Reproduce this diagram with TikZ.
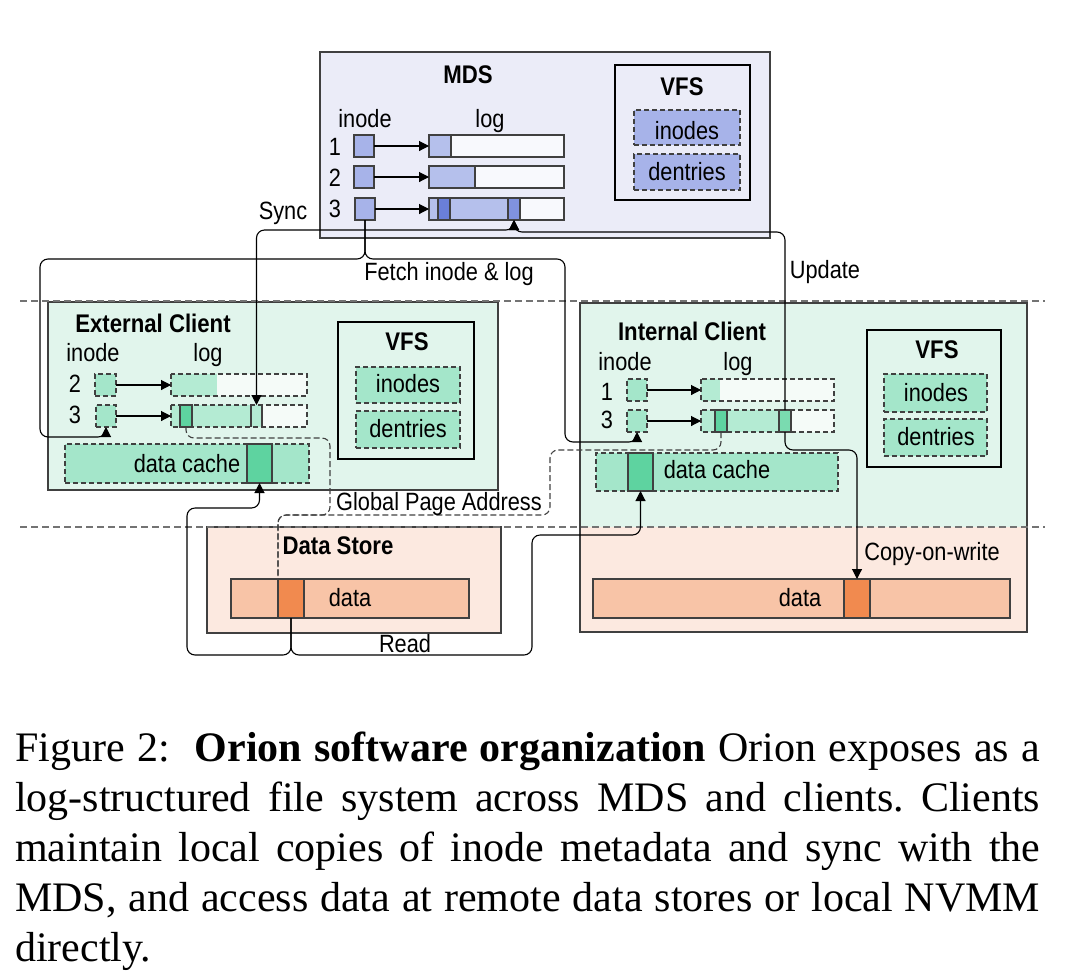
\documentclass[tikz,border=0pt]{standalone}
\usepackage{fontspec}
\setmainfont{Liberation Serif}
\newfontfamily\dfont[FakeStretch=0.87]{Liberation Sans}
\usetikzlibrary{arrows.meta,calc}
\definecolor{mdsbg}{HTML}{EBECF8}
\definecolor{blueA}{HTML}{A7B3E9}
\definecolor{blueL}{HTML}{B5C0EC}
\definecolor{blueD}{HTML}{6A7FD9}
\definecolor{blueE}{HTML}{F8F9FD}
\definecolor{mintbg}{HTML}{E1F5EC}
\definecolor{mintA}{HTML}{A4E6CA}
\definecolor{mintL}{HTML}{B4EBD3}
\definecolor{mintD}{HTML}{5ED3A0}
\definecolor{mintM}{HTML}{7ADBB0}
\definecolor{mintE}{HTML}{F5FBF8}
\definecolor{peachbg}{HTML}{FCE9E0}
\definecolor{peachbar}{HTML}{F8C4A7}
\definecolor{orng}{HTML}{F18A4F}
\definecolor{edge}{HTML}{404040}
\newcommand\rb[6]{\node[#2, anchor=north west, minimum width={(#5-#3)*1pt}, minimum height={(#6-#4)*1pt}, inner sep=0pt, outer sep=0pt] (#1) at (#3,#4) {};}
\tikzset{
  lbl/.style={font=\dfont\fontsize{25}{30}\selectfont, inner sep=0pt, anchor=base},
  ttl/.style={font=\dfont\bfseries\fontsize{25.5}{30}\selectfont, inner sep=0pt, anchor=base},
  solidbox/.style={draw=edge, line width=1.1pt},
  dbox/.style={draw=edge, dash pattern=on 5pt off 3pt, line width=1.1pt},
  conn/.style={draw=black, line width=1.1pt, rounded corners=8pt},
  dconn/.style={draw=edge, line width=1.1pt, rounded corners=8pt, dash pattern=on 6pt off 3pt},
  tip/.style={-{Triangle[length=10pt,width=10pt]}},
  tips/.style={{Triangle[length=10pt,width=10pt]}-{Triangle[length=10pt,width=10pt]}},
  sepline/.style={draw=black!55, line width=1.2pt, dash pattern=on 7pt off 4pt},
}
\begin{document}
\begin{tikzpicture}[x=1pt,y=-1pt]
\useasboundingbox (0,0) rectangle (1068,978);

% ===== MDS =====
\rb{mds}{solidbox, fill=mdsbg}{320}{52}{770}{238}
\rb{mvfs}{solidbox, draw=black, fill=mdsbg}{615}{65}{750}{200}
\rb{minodes}{dbox, fill=blueA}{634}{110}{740}{145}
\rb{mdent}{dbox, fill=blueA}{634}{154}{740}{190}
\rb{mi1}{solidbox, fill=blueA}{354}{135}{374}{157}
\rb{mi2}{solidbox, fill=blueA}{354}{166}{374}{188}
\rb{mi3}{solidbox, fill=blueA}{355}{198}{375}{220}
\rb{ml1}{solidbox, fill=blueE}{429}{135}{564}{157}
\rb{ml1f}{solidbox, fill=blueL}{429}{135}{451}{157}
\rb{ml2}{solidbox, fill=blueE}{429}{166}{564}{188}
\rb{ml2f}{solidbox, fill=blueL}{429}{166}{475}{188}
\rb{ml3}{solidbox, fill=blueE}{429}{198}{564}{220}
\rb{ml3f}{solidbox, fill=blueL}{429}{198}{520}{220}
\rb{ml3a}{solidbox, fill=blueD}{438}{198}{450}{220}
\rb{ml3b}{solidbox, fill=blueD!85!white}{508}{198}{520}{220}
\draw[conn, tip] (mi1.east) -- (ml1.west);
\draw[conn, tip] (mi2.east) -- (ml2.west);
\draw[conn, tip] (mi3.east) -- (ml3.west);
\node[ttl] (tmds) at (468,83) {MDS};
\node[ttl] (tmvfs) at (682,95) {VFS};
\node[lbl] (tminodes) at (687,139) {inodes};
\node[lbl] (tmdent) at (687,180) {dentries};
\node[lbl] (tminode) at (365,127.5) {inode};
\node[lbl] (tmlog) at (490,127.5) {log};
\node[lbl] (tm1) at (335,155) {1};
\node[lbl] (tm2) at (335,186) {2};
\node[lbl] (tm3) at (335,217) {3};

% ===== External client =====
\rb{ec}{solidbox, fill=mintbg}{48}{302}{498}{490}
\rb{evfs}{solidbox, draw=black, fill=mintbg}{338}{322}{474}{459}
\rb{einodes}{dbox, fill=mintA}{356}{367}{460}{403}
\rb{edent}{dbox, fill=mintA}{356}{411}{460}{448}
\rb{ei2}{dbox, fill=mintA}{95}{374}{116}{396}
\rb{ei3}{dbox, fill=mintA}{96}{405}{116}{427}
\rb{el2}{fill=mintE}{171}{374}{307}{396}
\rb{el2f}{fill=mintL}{171}{374}{217}{396}
\draw[dbox] (el2.north west) rectangle (el2.south east);
\rb{el3}{fill=mintE}{171}{405}{307}{427}
\rb{el3f}{fill=mintL}{171}{405}{262}{427}
\rb{el3s}{fill=mintL}{251}{405}{262}{427}
\draw[solidbox] (el3s.north west) -- (el3s.south west) (el3s.north east) -- (el3s.south east);
\draw[dbox] (el3.north west) rectangle (el3.south east);
\rb{el3d}{solidbox, fill=mintD}{180}{405}{192}{427}
\rb{ecc}{dbox, fill=mintA}{65}{444}{309}{483}
\rb{ecd}{solidbox, fill=mintD}{247}{444}{272}{483}
\draw[conn, tip] (ei2.east) -- (el2.west);
\draw[conn, tip] (ei3.east) -- (el3.west);
\node[ttl] (tec) at (153,332.5) {External Client};
\node[lbl] (teinode) at (93,361.5) {inode};
\node[lbl] (telog) at (208,361.5) {log};
\node[lbl] (te2) at (75,392) {2};
\node[lbl] (te3) at (75,423) {3};
\node[ttl] (tevfs) at (407,350) {VFS};
\node[lbl] (teinodes) at (408,392) {inodes};
\node[lbl] (tedent) at (408,437) {dentries};
\node[lbl] (tecc) at (187,472) {data cache};

% ===== Internal client =====
\rb{ic}{fill=mintbg}{580}{303}{1027}{632}
\rb{icp}{fill=peachbg}{580}{527}{1027}{632}
\draw[solidbox] (ic.north west) rectangle (ic.south east);
\rb{ivfs}{solidbox, draw=black, fill=mintbg}{867}{330}{1001}{467}
\rb{iinodes}{dbox, fill=mintA}{884}{374}{987}{412}
\rb{ident}{dbox, fill=mintA}{884}{419}{987}{456}
\rb{ii1}{dbox, fill=mintA}{627}{379}{647}{401}
\rb{ii3}{dbox, fill=mintA}{627}{410}{647}{432}
\rb{il1}{fill=mintE}{701}{379}{834}{401}
\rb{il1f}{fill=mintL}{701}{379}{720}{401}
\draw[dbox] (il1.north west) rectangle (il1.south east);
\rb{il3}{fill=mintE}{701}{410}{834}{432}
\rb{il3f}{fill=mintL}{701}{410}{791}{432}
\draw[dbox] (il3.north west) rectangle (il3.south east);
\rb{il3d}{solidbox, fill=mintD}{715}{410}{727}{432}
\rb{il3s}{solidbox, fill=mintM}{779}{410}{791}{432}
\rb{idc}{dbox, fill=mintA}{596}{453}{838}{491}
\rb{idd}{solidbox, fill=mintD}{628}{453}{653}{491}
\rb{ibar}{solidbox, fill=peachbar}{593}{579}{1010}{618}
\rb{iorange}{solidbox, fill=orng}{844}{579}{870}{618}
\draw[conn, tip] (ii1.east) -- (il1.west);
\draw[conn, tip] (ii3.east) -- (il3.west);
\node[ttl] (tic) at (692,340) {Internal Client};
\node[lbl] (tiinode) at (625,370) {inode};
\node[lbl] (tilog) at (738,370) {log};
\node[lbl] (ti1) at (607,400) {1};
\node[lbl] (ti3) at (607,428.5) {3};
\node[ttl] (tivfs) at (937,358.5) {VFS};
\node[lbl] (tiinodes) at (936,401.5) {inodes};
\node[lbl] (tident) at (936,445) {dentries};
\node[lbl] (tidc) at (717,478.5) {data cache};
\node[lbl] (tidata) at (800,606.5) {data};

% ===== Data store =====
\rb{ds}{solidbox, fill=peachbg}{207}{527}{501}{633}
\rb{dbar}{solidbox, fill=peachbar}{231}{579}{469}{618}
\rb{dorange}{solidbox, fill=orng}{278}{579}{304}{618}
\node[ttl] (tds) at (338,554) {Data Store};
\node[lbl] (tddata) at (350,606.5) {data};

% ===== separators =====
\coordinate (s1a) at (20,301); \coordinate (s1b) at (1045,301);
\coordinate (s2a) at (20,527); \coordinate (s2b) at (1045,527);
\draw[sepline] (s1a) -- (s1b);
\draw[sepline] (s2a) -- (s2b);

% ===== connectors =====
\coordinate (fL) at (40,259);
\coordinate (fR) at (565,259);
\coordinate (gE) at (330,438);
\coordinate (gI) at (550,450);
\coordinate (gJ) at (278,515);
\coordinate (rL) at (187,655);
\coordinate (rR) at (532,655);

% Sync
\draw[conn, tips] (ml3b.south) -- ++(0,10) -| (el3s.north);
% Update
\draw[conn, tip] (il3s.north) |- ($(ml3b.south)+(0,12)$) -- (ml3b.south);
% Copy-on-write
\draw[conn, tip] (il3s.south) -- ++(0,18) -| (iorange.north);
% Fetch inode & log
\draw[conn, tip] (mi3.south) |- (fL) |- ($(ei3.south)+(0,10)$) -- (ei3.south);
\draw[conn, tip] (mi3.south) |- (fR) |- ($(ii3.south)+(0,10)$) -- (ii3.south);
% Global page address
\draw[dconn] (el3d.south) |- (gE) |- (gJ) -- (dorange.north west);
\draw[dconn] (il3d.south) |- (gI) |- (gJ) -- (dorange.north west);
% Read
\draw[conn, tip] (dorange.south) |- (rL) |- ($(ecd.south)+(0,25)$) -- (ecd.south);
\draw[conn, tip] (dorange.south) |- (rR) |- ($(idd.south)+(0,44)$) -- (idd.south);

% connector labels
\node[lbl] (lsync) at (283,219) {Sync};
\node[lbl] (lfetch) at (449,280) {Fetch inode \& log};
\node[lbl] (lupd) at (825,278) {Update};
\node[lbl] (lgpa) at (439,510) {Global Page Address};
\node[lbl] (lread) at (405,652) {Read};
\node[lbl] (lcow) at (932,560) {Copy-on-write};

% ===== caption =====
\node[anchor=north west, inner sep=0pt, text width=1025pt, align=justify,
      font=\fontsize{42}{50}\selectfont] (cap) at (15,732)
 {\frenchspacing\hyphenpenalty=10000\exhyphenpenalty=10000
  Figure 2:\hspace{0.3em} \textbf{Orion software organization} Orion exposes as a\linebreak
  log-structured file system across MDS and clients. Clients\linebreak
  maintain local copies of inode metadata and sync with the\linebreak
  MDS, and access data at remote data stores or local NVMM\linebreak
  directly.};
\end{tikzpicture}
\end{document}
